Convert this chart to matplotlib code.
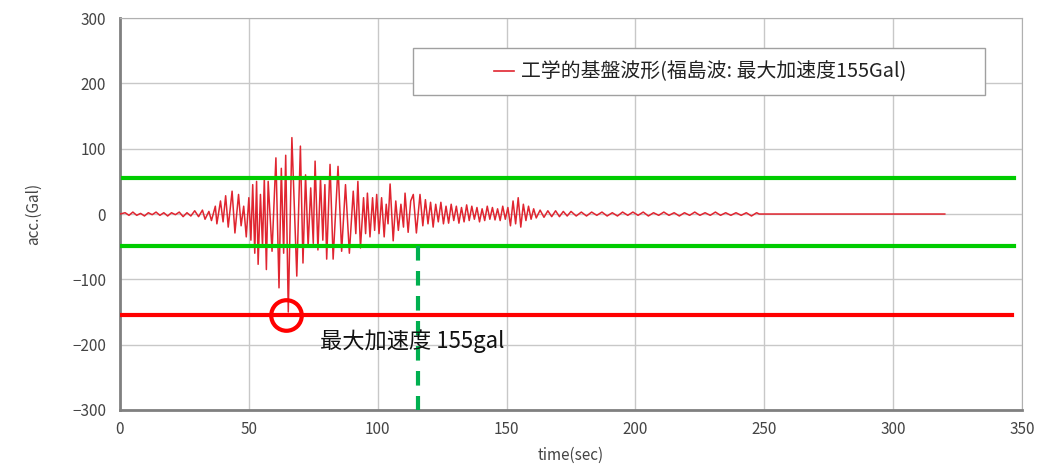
import matplotlib

matplotlib.use("Agg", force=True)
import matplotlib.pyplot as plt
from matplotlib.patches import Rectangle

plt.rcParams["font.family"] = ["Noto Sans CJK JP", "DejaVu Sans"]

# extrema of the record (time in s, acc in Gal)
wave_time = [
    0, 2, 3.5, 5, 6.5, 8, 9.5, 11, 12.5, 14, 15.5, 17, 18.5, 20, 21.5, 23, 24.5, 26, 27.5, 29,
    30.5, 32, 33, 34.5, 35.5, 37, 37.6, 39, 40, 41, 42, 43.5, 44.6, 46, 47, 48, 49, 50, 50.8, 51.5,
    52.3, 53, 53.6, 54.5, 55.3, 56, 56.8, 57.5, 59, 60.5, 61.7, 62.6, 63.5, 64.3, 65.3, 66.7, 68.6, 70, 71, 72,
    73, 74, 75, 75.7, 76.8, 77.8, 78.7, 79.5, 80.2, 81.5, 82.7, 84.6, 86, 87.5, 89, 90.5, 91.5, 92.3, 93.3, 94.5,
    95.3, 96, 97, 98, 98.8, 99.6, 100.5, 101.5, 102.5, 103.3, 104, 104.8, 106, 107, 108, 109, 110, 110.6, 111.8, 112.8,
    113.8, 115, 116.4, 117.5, 118.5, 119.5, 120.5, 121.5, 122.5, 123.5, 124.5, 125.5, 126.5, 127.5, 128.5, 129.5, 130.5, 131.5, 132.5, 133.5,
    134.5, 135.5, 136.5, 137.5, 138.5, 139.5, 140.5, 141.5, 142.5, 143.5, 144.5, 145.5, 146.5, 147.5, 148.5, 149.5, 150.5, 151.5, 152.5, 153.5,
    154.5, 155.5, 156.5, 157.5, 158.5, 159.5, 160.5, 161.5, 163, 164.5, 166, 167.5, 169, 170.5, 172, 173.5, 175, 177, 179, 181,
    183, 185, 187, 189, 191, 193, 195, 197, 199, 201, 203, 205, 207, 209, 211, 213, 215, 217, 219, 221,
    223, 225, 227, 229, 231, 233, 235, 237, 239, 241, 243, 245, 247, 248, 320,
]
wave_acc = [
    0, 2, -2, 3, -2, 1, -3, 2, -1, 3, -2, 2, -3, 2, -1, 3, -4, 2, -3, 5,
    -4, 6, -8, 4, -10, 12, -15, 20, -12, 28, -20, 35, -29, 30, -18, 12, -35, 25, -40, 45,
    -60, 50, -77, 30, -50, 55, -85, 50, -57, 86, -113, 70, -60, 90, -150, 117, -95, 104, -75, 60,
    -50, 40, -45, 81, -55, 55, -40, 45, -69, 76, -69, 73, -57, 45, -60, 35, -30, 50, -52, 25,
    -30, 32, -35, 25, -25, 30, -30, 25, -35, 15, -15, 46, -41, 20, -25, 15, -20, 32, -28, 20,
    30, -29, 30, -18, 22, -15, 18, -20, 15, -12, 18, -15, 12, -14, 15, -10, 12, -14, 10, -12,
    14, -10, 12, -8, 10, -12, 8, -10, 12, -8, 10, -9, 8, -10, 12, -8, 10, -18, 20, -15,
    25, -20, 15, -10, 12, -8, 8, -6, 6, -5, 5, -4, 5, -4, 4, -3, 4, -3, 3, -3,
    3, -2, 3, -3, 2, -3, 3, -2, 3, -2, 3, -3, 2, -2, 3, -2, 2, -3, 2, -2,
    3, -2, 2, -2, 3, -2, 2, -2, 2, -2, 2, -3, 2, 0, 0,
]

legend_label = "工学的基盤波形(福島波: 最大加速度155Gal)"
threshold_upper = 55
threshold_lower = -49
peak_level = -155
peak_time = 64.5
cut_time = 115.6
x_ticks = [0, 50, 100, 150, 200, 250, 300, 350]
y_ticks = [-300, -200, -100, 0, 100, 200, 300]

fig = plt.figure(figsize=(10.45, 4.76), dpi=100)
ax = fig.add_axes([0.1148, 0.1387, 0.8633, 0.8233])

ax.plot(wave_time, wave_acc, color="#e02530", linewidth=1.1, zorder=3)

ax.plot([1, 347], [threshold_upper, threshold_upper], color="#00cc00", linewidth=3, zorder=4)
ax.plot([0, 347], [threshold_lower, threshold_lower], color="#00cc00", linewidth=3, zorder=4)
ax.plot([0, 346], [peak_level, peak_level], color="#ff0000", linewidth=3, zorder=4)
ax.plot([cut_time, cut_time], [threshold_lower, -300], color="#00b050", linewidth=3,
        linestyle=(0, (3.5, 2.5)), zorder=4)
ax.plot([peak_time], [peak_level], marker="o", markersize=22, markerfacecolor="none",
        markeredgecolor="#ff0000", markeredgewidth=3, zorder=5)
ax.text(77.5, -194, "最大加速度 155gal", fontsize=16, color="#111111",
        ha="left", va="center", zorder=6)

ax.set_xlim(0, 350)
ax.set_ylim(-300, 300)
ax.set_xticks(x_ticks)
ax.set_yticks(y_ticks)
ax.grid(True, color="#c8c8c8", linewidth=1)
ax.set_axisbelow(True)
ax.tick_params(axis="both", length=0, labelsize=11, labelcolor="#444444", pad=8)
ax.tick_params(axis="y", pad=10)
for side in ["top", "right"]:
    ax.spines[side].set_color("#b0b0b0")
for side in ["left", "bottom"]:
    ax.spines[side].set_color("#808080")
    ax.spines[side].set_linewidth(2)

ax.set_xlabel("time(sec)", fontsize=11, color="#444444", labelpad=6)
ax.set_ylabel("acc.(Gal)", fontsize=11, color="#444444", labelpad=22)

# legend box
ax.add_patch(Rectangle((0.325, 0.804), 0.634, 0.119, transform=ax.transAxes,
                       facecolor="white", edgecolor="#a0a0a0", linewidth=1, zorder=7))
ax.plot([0.415, 0.437], [0.864, 0.864], transform=ax.transAxes, color="#e02530",
        linewidth=1.2, zorder=8)
ax.text(0.444, 0.864, legend_label, transform=ax.transAxes, fontsize=14.3,
        color="#222222", ha="left", va="center", zorder=8)

fig.savefig("out.png", dpi=100)
